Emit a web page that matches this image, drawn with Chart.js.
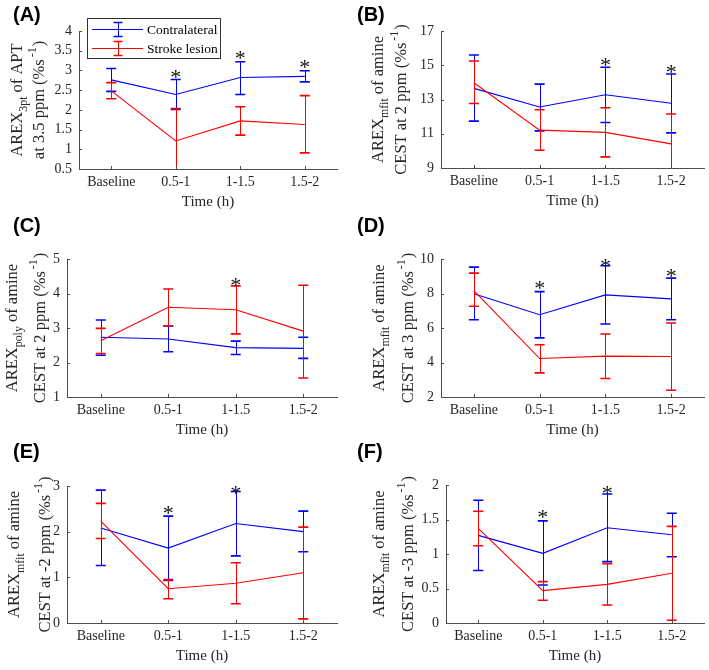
<!DOCTYPE html>
<html>
<head>
<meta charset="utf-8">
<script src="https://cdn.jsdelivr.net/npm/chart.js@4.4.1/dist/chart.umd.min.js"></script>
<style>
html,body{margin:0;padding:0;background:#fff;}
#wrap{position:relative;width:709px;height:670px;background:#fff;overflow:hidden;}
</style>
</head>
<body>
<div id="wrap"></div>
<script>
// ---------- DATA ----------
const categories = ['Baseline', '0.5-1', '1-1.5', '1.5-2'];
const seriesNames = ['Contralateral', 'Stroke lesion'];

// (A) AREX3pt of APT at 3.5 ppm
const aTicks = [0.5, 1, 1.5, 2, 2.5, 3, 3.5, 4];
const aContra   = [2.76, 2.39, 2.82, 2.85];
const aContraHi = [3.05, 2.77, 3.22, 2.99];
const aContraLo = [2.47, 2.01, 2.39, 2.71];
const aStroke   = [2.48, 1.21, 1.72, 1.63];
const aStrokeHi = [2.69, 2.03, 2.08, 2.36];
const aStrokeLo = [2.28, 0.39, 1.36, 0.91];
const aStars    = [null, 2.91, 3.39, 3.18];

// (B) AREXmfit of amine CEST at 2 ppm
const bTicks = [9, 11, 13, 15, 17];
const bContra   = [13.65, 12.56, 13.28, 12.78];
const bContraHi = [15.60, 13.90, 14.88, 14.49];
const bContraLo = [11.74, 11.17, 11.66, 11.05];
const bStroke   = [13.98, 11.21, 11.08, 10.41];
const bStrokeHi = [15.25, 12.40, 12.52, 12.15];
const bStrokeLo = [12.77, 10.04, 9.65, 8.70];
const bStars    = [null, null, 15.20, 14.82];

// (C) AREXpoly of amine CEST at 2 ppm
const cTicks = [1, 2, 3, 4, 5];
const cContra   = [2.73, 2.68, 2.43, 2.41];
const cContraHi = [3.23, 3.06, 2.62, 2.73];
const cContraLo = [2.21, 2.31, 2.23, 2.12];
const cStroke   = [2.63, 3.60, 3.53, 2.91];
const cStrokeHi = [2.99, 4.13, 4.22, 4.24];
const cStrokeLo = [2.26, 3.06, 2.83, 1.55];
const cStars    = [null, null, 4.35, null];

// (D) AREXmfit of amine CEST at 3 ppm
const dTicks = [2, 4, 6, 8, 10];
const dContra   = [7.98, 6.77, 7.92, 7.69];
const dContraHi = [9.53, 8.11, 9.61, 8.89];
const dContraLo = [6.48, 5.43, 6.23, 6.48];
const dStroke   = [8.17, 4.23, 4.37, 4.35];
const dStrokeHi = [9.18, 5.03, 5.65, 6.29];
const dStrokeLo = [7.26, 3.40, 3.07, 2.39];
const dStars    = [null, 8.50, 9.80, 9.18];

// (E) AREXmfit of amine CEST at -2 ppm
const eTicks = [0, 1, 2, 3];
const eContra   = [2.08, 1.64, 2.18, 2.00];
const eContraHi = [2.91, 2.34, 2.88, 2.45];
const eContraLo = [1.26, 0.93, 1.47, 1.56];
const eStroke   = [2.23, 0.75, 0.87, 1.10];
const eStrokeHi = [2.62, 0.95, 1.32, 2.10];
const eStrokeLo = [1.85, 0.53, 0.42, 0.09];
const eStars    = [null, 2.48, 2.92, null];

// (F) AREXmfit of amine CEST at -3 ppm
const fTicks = [0, 0.5, 1, 1.5, 2];
const fContra   = [1.27, 1.01, 1.38, 1.28];
const fContraHi = [1.78, 1.48, 1.87, 1.59];
const fContraLo = [0.76, 0.55, 0.89, 0.96];
const fStroke   = [1.37, 0.47, 0.56, 0.72];
const fStrokeHi = [1.62, 0.60, 0.86, 1.40];
const fStrokeLo = [1.12, 0.33, 0.26, 0.04];
const fStars    = [null, 1.58, 1.93, null];

// ---------- STYLE / LAYOUT ----------
const BLUE = 'rgb(0,0,255)';
const RED = 'rgb(255,0,0)';
const AXIS = '#4d4d4d';
const TXT = '#262626';
const SERIF = '"Liberation Serif", "Times New Roman", serif';
const SANS = '"Liberation Sans", Arial, sans-serif';
const STAR_FS = 22;

const panels = [
  { letter:'(A)', lx:13, cx:0, cy:0, cw:354, ch:220, plot:{l:79,t:31,r:337,b:169}, letterY:15,
    ticks:aTicks, contra:[aContra,aContraHi,aContraLo], stroke:[aStroke,aStrokeHi,aStrokeLo], stars:aStars,
    yl1:[['AREX','n'],['3pt','sub'],[' of APT','n']], yl2:[['at 3.5 ppm (%s','n'],['-1','sup'],[')','n']],
    ylx1:22, ylx2:44, legend:true },
  { letter:'(B)', lx:357, cx:354, cy:0, cw:355, ch:220, plot:{l:441,t:31,r:704,b:168}, letterY:15,
    ticks:bTicks, contra:[bContra,bContraHi,bContraLo], stroke:[bStroke,bStrokeHi,bStrokeLo], stars:bStars,
    yl1:[['AREX','n'],['mfit','sub'],[' of amine','n']], yl2:[['CEST at 2 ppm (%s','n'],['-1','sup'],[')','n']],
    ylx1:383, ylx2:406 },
  { letter:'(C)', lx:13, cx:0, cy:205, cw:354, ch:240, plot:{l:67,t:259,r:337,b:397}, letterY:226,
    ticks:cTicks, contra:[cContra,cContraHi,cContraLo], stroke:[cStroke,cStrokeHi,cStrokeLo], stars:cStars,
    yl1:[['AREX','n'],['poly','sub'],[' of amine','n']], yl2:[['CEST at 2 ppm (%s','n'],['-1','sup'],[')','n']],
    ylx1:17, ylx2:45 },
  { letter:'(D)', lx:357, cx:354, cy:205, cw:355, ch:240, plot:{l:441,t:259,r:704,b:397}, letterY:226,
    ticks:dTicks, contra:[dContra,dContraHi,dContraLo], stroke:[dStroke,dStrokeHi,dStrokeLo], stars:dStars,
    yl1:[['AREX','n'],['mfit','sub'],[' of amine','n']], yl2:[['CEST at 3 ppm (%s','n'],['-1','sup'],[')','n']],
    ylx1:384, ylx2:413 },
  { letter:'(E)', lx:13, cx:0, cy:432, cw:354, ch:238, plot:{l:67,t:486,r:337,b:623}, letterY:452,
    ticks:eTicks, contra:[eContra,eContraHi,eContraLo], stroke:[eStroke,eStrokeHi,eStrokeLo], stars:eStars,
    yl1:[['AREX','n'],['mfit','sub'],[' of amine','n']], yl2:[['CEST at -2 ppm (%s','n'],['-1','sup'],[')','n']],
    ylx1:19, ylx2:50 },
  { letter:'(F)', lx:357, cx:354, cy:432, cw:355, ch:238, plot:{l:446,t:485,r:704,b:623}, letterY:452,
    ticks:fTicks, contra:[fContra,fContraHi,fContraLo], stroke:[fStroke,fStrokeHi,fStrokeLo], stars:fStars,
    yl1:[['AREX','n'],['mfit','sub'],[' of amine','n']], yl2:[['CEST at -3 ppm (%s','n'],['-1','sup'],[')','n']],
    ylx1:384, ylx2:413 }
];

// ---------- HELPERS ----------
function drawRotRich(ctx, segs, bx, cy, fs) {
  const sfs = fs * 0.72;
  ctx.save();
  ctx.translate(bx, cy);
  ctx.rotate(-Math.PI / 2);
  ctx.fillStyle = TXT;
  ctx.textBaseline = 'alphabetic';
  ctx.textAlign = 'left';
  let total = 0;
  const widths = segs.map(s => {
    ctx.font = (s[1] === 'n' ? fs : sfs) + 'px ' + SERIF;
    const w = ctx.measureText(s[0]).width + (s[1] === 'sup' ? 3 : 0);
    total += w;
    return w;
  });
  let x = -total / 2;
  segs.forEach((s, i) => {
    ctx.font = (s[1] === 'n' ? fs : sfs) + 'px ' + SERIF;
    let dy = 0, dx = 0;
    if (s[1] === 'sub') dy = fs * 0.32;
    if (s[1] === 'sup') { dy = -fs * 0.5; dx = 2; }
    ctx.fillText(s[0], x + dx, dy);
    x += widths[i];
  });
  ctx.restore();
}

function drawErrBar(ctx, x, yHi, yLo, color, capW) {
  ctx.strokeStyle = color;
  ctx.lineWidth = 1;
  ctx.beginPath();
  ctx.moveTo(Math.round(x) + 0.5, yHi);
  ctx.lineTo(Math.round(x) + 0.5, yLo);
  ctx.stroke();
  ctx.lineWidth = 1.6;
  ctx.beginPath();
  ctx.moveTo(x - capW / 2, yHi); ctx.lineTo(x + capW / 2, yHi);
  ctx.moveTo(x - capW / 2, yLo); ctx.lineTo(x + capW / 2, yLo);
  ctx.stroke();
}

function fmtTick(v) {
  return String(Math.round(v * 100) / 100);
}

function panelPlugin(p) {
  return {
    id: 'panelDecor',
    afterDatasetDraw(chart, args) {
      const ds = chart.data.datasets[args.index];
      const xs = chart.scales.x, ys = chart.scales.y;
      const ctx = chart.ctx;
      const a = chart.chartArea;
      ctx.save();
      ctx.beginPath();
      ctx.rect(0, 0, chart.width, a.bottom);
      ctx.clip();
      ds.errHi.forEach((hi, i) => {
        const x = xs.getPixelForValue(i);
        drawErrBar(ctx, x, ys.getPixelForValue(hi), ys.getPixelForValue(ds.errLo[i]), ds.borderColor, 10);
      });
      ctx.restore();
    },
    afterDraw(chart) {
      const ctx = chart.ctx;
      const xs = chart.scales.x, ys = chart.scales.y;
      const a = chart.chartArea;
      ctx.save();
      // inward tick marks
      ctx.strokeStyle = AXIS;
      ctx.lineWidth = 1;
      ctx.beginPath();
      p.ticks.forEach(v => {
        const y = Math.round(ys.getPixelForValue(v)) + 0.5;
        ctx.moveTo(a.left, y); ctx.lineTo(a.left + 3, y);
      });
      categories.forEach((c, i) => {
        const x = Math.round(xs.getPixelForValue(i)) + 0.5;
        ctx.moveTo(x, a.bottom); ctx.lineTo(x, a.bottom - 3);
      });
      ctx.stroke();
      // significance stars
      ctx.fillStyle = '#111';
      ctx.font = STAR_FS + 'px ' + SERIF;
      ctx.textAlign = 'center';
      ctx.textBaseline = 'alphabetic';
      p.stars.forEach((s, i) => {
        if (s === null) return;
        ctx.fillText('*', xs.getPixelForValue(i), ys.getPixelForValue(s) + STAR_FS * 0.47);
      });
      // x-axis title
      ctx.fillStyle = TXT;
      ctx.font = '15px ' + SERIF;
      ctx.textBaseline = 'middle';
      ctx.fillText('Time (h)', (a.left + a.right) / 2, a.bottom + 33);
      // y-axis title (two lines)
      const cyc = (a.top + a.bottom) / 2;
      drawRotRich(ctx, p.yl1, p.ylx1 - p.cx, cyc, 16.5);
      drawRotRich(ctx, p.yl2, p.ylx2 - p.cx, cyc, 16.5);
      // panel letter
      ctx.fillStyle = '#000';
      ctx.font = 'bold 20px ' + SANS;
      ctx.textAlign = 'left';
      ctx.textBaseline = 'middle';
      ctx.fillText(p.letter, p.lx - p.cx, p.letterY - p.cy);
      ctx.restore();
      // legend
      if (p.legend) {
        ctx.save();
        const bx = 87.5 - p.cx, by = 18.5 - p.cy, bw = 133, bh = 40;
        ctx.fillStyle = '#fff';
        ctx.fillRect(bx, by, bw, bh);
        ctx.strokeStyle = '#333';
        ctx.lineWidth = 1;
        ctx.strokeRect(bx, by, bw, bh);
        const rows = [[BLUE, 29.5, seriesNames[0]], [RED, 48.5, seriesNames[1]]];
        rows.forEach(r => {
          ctx.strokeStyle = r[0];
          ctx.lineWidth = 1;
          ctx.beginPath();
          ctx.moveTo(92, r[1]); ctx.lineTo(143, r[1]);
          ctx.stroke();
          drawErrBar(ctx, 118, r[1] - 7, r[1] + 7, r[0], 9);
          ctx.fillStyle = '#000';
          ctx.font = '13.5px ' + SERIF;
          ctx.textAlign = 'left';
          ctx.textBaseline = 'middle';
          ctx.fillText(r[2], 147, r[1] + 1);
        });
        ctx.restore();
      }
    }
  };
}

// ---------- BUILD ----------
const wrap = document.getElementById('wrap');
panels.forEach(p => {
  const cv = document.createElement('canvas');
  cv.width = p.cw; cv.height = p.ch;
  cv.style.cssText = 'position:absolute;left:' + p.cx + 'px;top:' + p.cy + 'px;width:' + p.cw + 'px;height:' + p.ch + 'px;';
  wrap.appendChild(cv);
  const L = p.plot.l - p.cx, T = p.plot.t - p.cy, R = p.plot.r - p.cx, B = p.plot.b - p.cy;
  const mk = (name, arr, color, order) => ({
    label: name, data: arr[0], errHi: arr[1], errLo: arr[2],
    borderColor: color, backgroundColor: color, borderWidth: 1.1,
    pointRadius: 0, pointHoverRadius: 0, tension: 0, fill: false, order: order
  });
  new Chart(cv, {
    type: 'line',
    data: { labels: categories, datasets: [mk(seriesNames[0], p.contra, BLUE, 1), mk(seriesNames[1], p.stroke, RED, 0)] },
    options: {
      responsive: false, devicePixelRatio: 1, animation: false,
      layout: { padding: { left: 0, top: T, right: p.cw - R, bottom: 0 } },
      plugins: { legend: { display: false }, tooltip: { enabled: false } },
      events: [],
      scales: {
        x: {
          type: 'category', offset: true,
          grid: { display: false, drawTicks: false },
          border: { display: true, color: AXIS, width: 1 },
          ticks: { font: { family: SERIF, size: 14 }, color: TXT, padding: 5, maxRotation: 0, autoSkip: false },
          afterFit(s) { s.height = p.ch - B; }
        },
        y: {
          min: p.ticks[0], max: p.ticks[p.ticks.length - 1],
          grid: { display: false, drawTicks: false },
          border: { display: true, color: AXIS, width: 1 },
          ticks: { font: { family: SERIF, size: 14 }, color: TXT, padding: 7, autoSkip: false, callback: fmtTick },
          afterBuildTicks(s) { s.ticks = p.ticks.map(v => ({ value: v })); },
          afterFit(s) { s.width = L; }
        }
      }
    },
    plugins: [panelPlugin(p)]
  });
});
</script>
</body>
</html>
